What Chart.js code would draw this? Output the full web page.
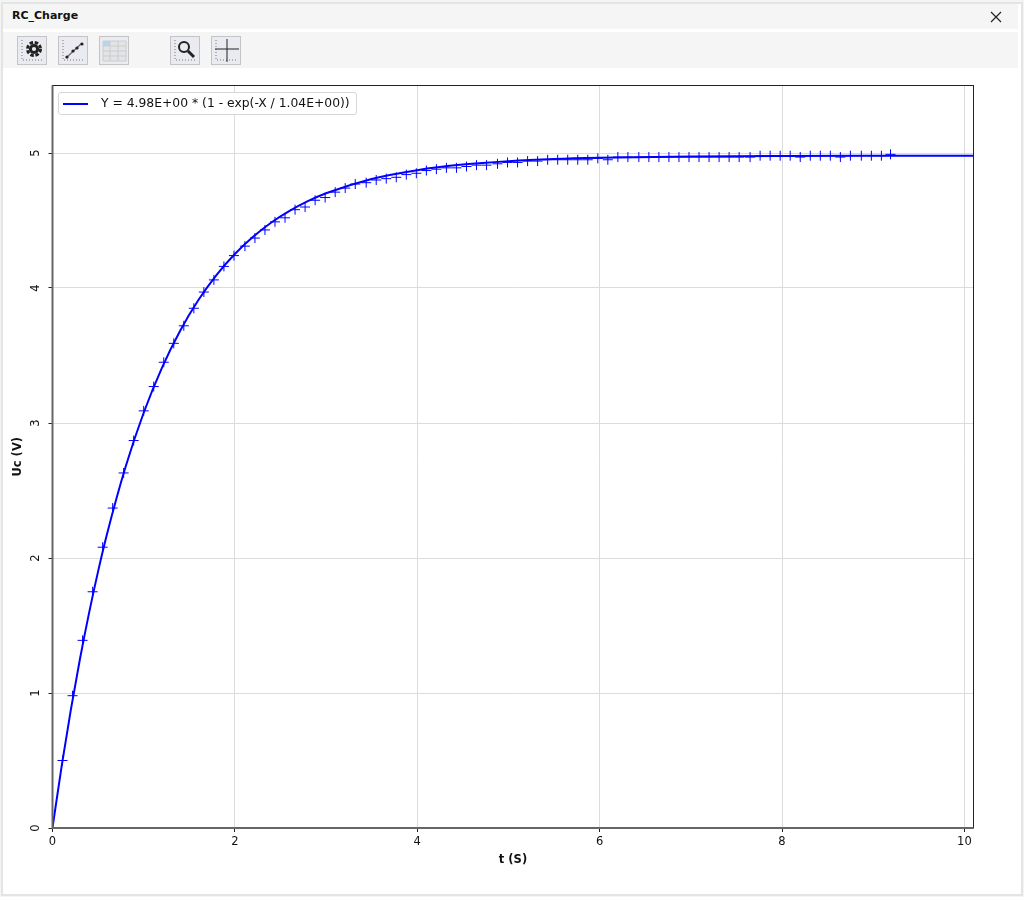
<!DOCTYPE html>
<html>
<head>
<meta charset="utf-8">
<title>RC_Charge</title>
<script src="https://cdn.jsdelivr.net/npm/chart.js@4/dist/chart.umd.min.js"></script>
<style>
  html, body { margin: 0; padding: 0; background: #f4f4f4; }
  #win { position: relative; width: 1024px; height: 897px; overflow: hidden; font-family: "DejaVu Sans", sans-serif; }
  #frame { position: absolute; left: 1px; top: 2px; width: 1018px; height: 890px; border: 2px solid #e4e4e4; background: #fff; }
  #titlebar { position: absolute; left: 3px; top: 4px; width: 1015px; height: 25px; background: #f5f5f5; }
  #title { position: absolute; left: 12px; top: 9px; font-size: 11px; font-weight: bold; color: #111; }
  #close { position: absolute; left: 990px; top: 11px; }
  #toolbar { position: absolute; left: 3px; top: 32px; width: 1015px; height: 36px; background: #f5f5f5; }
  .tool { position: absolute; top: 36px; width: 28px; height: 27px; border: 1px solid #c4c4c8; background: #e9ebf0; }
  .tool svg { filter: blur(.35px); }
  #plot { position: absolute; left: 0; top: 68px; width: 1019px; height: 800px; }
  #legend { position: absolute; left: 58px; top: 92px; width: 297px; height: 21px; border: 1px solid #d6d6d6; border-radius: 3px; background: rgba(255,255,255,.9); font-size: 12.35px; line-height: 21px; color: #111; white-space: nowrap; }
  #legend i { position: absolute; left: 4px; top: 10px; width: 25px; height: 2px; background: #0000ff; }
  #legend span { position: absolute; left: 42px; top: 0; }
</style>
</head>
<body>
<div id="win">
  <div id="frame"></div>
  <div id="titlebar"></div>
  <div id="title">RC_Charge</div>
  <svg id="close" width="12" height="12" viewBox="0 0 12 12"><path d="M1 1L11 11M11 1L1 11" stroke="#222" stroke-width="1.2"/></svg>
  <div id="toolbar"></div>
  <div class="tool" style="left:17px"><svg width="28" height="27"><path d="M4 3V23H26" fill="none" stroke="#777" stroke-dasharray="1 2"/><circle cx="16" cy="12" r="6.5" fill="none" stroke="#222" stroke-width="3" stroke-dasharray="3.4 1.7"/><circle cx="16" cy="12" r="3.6" fill="none" stroke="#222" stroke-width="3"/></svg></div>
  <div class="tool" style="left:58px"><svg width="28" height="27"><path d="M4 3V23H26" fill="none" stroke="#777" stroke-dasharray="1 2"/><path d="M7 21L23 6" stroke="#7a5a7a" stroke-width="1.2"/><circle cx="8" cy="20" r="1.6" fill="#222"/><circle cx="14" cy="14" r="1.6" fill="#222"/><circle cx="18" cy="11" r="1.6" fill="#222"/><circle cx="23" cy="7" r="1.6" fill="#222"/></svg></div>
  <div class="tool" style="left:99px"><svg width="28" height="27"><path d="M3 4H26V24H3Z" fill="#e2e4e6" stroke="#ccc"/><path d="M3 9H26M3 14H26M3 19H26M10 4V24M18 4V24" stroke="#ccc"/><rect x="3" y="4" width="7" height="5" fill="#b5d4f2"/></svg></div>
  <div class="tool" style="left:170px"><svg width="28" height="27"><path d="M4 3V23H26" fill="none" stroke="#777" stroke-dasharray="1 2"/><circle cx="13" cy="10" r="5" fill="none" stroke="#222" stroke-width="2"/><path d="M17 14L23 20" stroke="#222" stroke-width="3"/></svg></div>
  <div class="tool" style="left:211px"><svg width="28" height="27"><path d="M4 3V23H26" fill="none" stroke="#777" stroke-dasharray="1 2"/><path d="M15 2V25M3 12H27" stroke="#222"/></svg></div>
  <div id="plot"><canvas id="chart"></canvas></div>
  <div id="legend"><i></i><span id="legend-label"></span></div>
</div>
<script>
// measured samples (the + marks)
const sampleT = [0.11, 0.22, 0.33, 0.44, 0.55, 0.66, 0.78, 0.89, 1.00, 1.11,
  1.22, 1.33, 1.44, 1.55, 1.66, 1.77, 1.88, 1.99, 2.11, 2.22,
  2.33, 2.44, 2.55, 2.66, 2.77, 2.88, 2.99, 3.10, 3.21, 3.32,
  3.44, 3.55, 3.66, 3.77, 3.88, 3.99, 4.10, 4.21, 4.32, 4.43,
  4.54, 4.65, 4.76, 4.88, 4.99, 5.10, 5.21, 5.32, 5.43, 5.54,
  5.65, 5.76, 5.87, 5.98, 6.09, 6.20, 6.31, 6.43, 6.54, 6.65,
  6.76, 6.87, 6.98, 7.09, 7.20, 7.31, 7.42, 7.53, 7.65, 7.76,
  7.87, 7.98, 8.09, 8.20, 8.31, 8.42, 8.53, 8.64, 8.75, 8.87,
  8.98, 9.09, 9.19];
const sampleU = [0.50, 0.98, 1.39, 1.75, 2.08, 2.37, 2.63, 2.87, 3.09, 3.27,
  3.45, 3.59, 3.72, 3.85, 3.97, 4.06, 4.16, 4.24, 4.31, 4.37,
  4.43, 4.49, 4.52, 4.58, 4.60, 4.65, 4.67, 4.71, 4.74, 4.77,
  4.78, 4.80, 4.81, 4.82, 4.84, 4.85, 4.87, 4.88, 4.89, 4.89,
  4.90, 4.91, 4.91, 4.92, 4.93, 4.93, 4.94, 4.94, 4.95, 4.95,
  4.95, 4.95, 4.95, 4.96, 4.95, 4.97, 4.97, 4.97, 4.97, 4.97,
  4.97, 4.97, 4.97, 4.97, 4.97, 4.97, 4.97, 4.97, 4.97, 4.98,
  4.98, 4.98, 4.98, 4.97, 4.98, 4.98, 4.98, 4.97, 4.98, 4.98,
  4.98, 4.98, 4.99];

// fitted curve
const fitT = [0, 0.1, 0.2, 0.3, 0.4, 0.5, 0.6, 0.8, 1.0, 1.2, 1.4, 1.6, 1.8,
  2.0, 2.2, 2.4, 2.6, 2.8, 3.0, 3.5, 4.0, 4.5, 5.0, 5.5, 6.0, 7.0, 8.0, 9.0, 10.1];
const fitU = [0, 0.457, 0.871, 1.248, 1.590, 1.901, 2.183, 2.672, 3.076, 3.409, 3.684, 3.911, 4.098,
  4.252, 4.379, 4.485, 4.571, 4.643, 4.702, 4.808, 4.873, 4.914, 4.939, 4.955, 4.964, 4.974, 4.978, 4.979, 4.980];

const xTicks = [0, 2, 4, 6, 8, 10];
const yTicks = [0, 1, 2, 3, 4, 5];
const fitLabel = 'Y = 4.98E+00 * (1 - exp(-X / 1.04E+00))';

const toXY = (xs, ys) => xs.map((x, i) => ({ x, y: ys[i] }));

Chart.defaults.font.family = '"DejaVu Sans", sans-serif';
Chart.defaults.font.size = 11.5;
Chart.defaults.color = '#111';
Chart.defaults.animation = false;

// 사방 테두리 (왼쪽/아래는 더 굵게)
const framePlugin = {
  id: 'frame',
  afterDatasetsDraw(chart) {
    const { ctx, chartArea: a } = chart;
    ctx.save();
    ctx.strokeStyle = '#222';
    ctx.lineWidth = 1;
    ctx.strokeRect(a.left, a.top, a.right - a.left, a.bottom - a.top);
    ctx.strokeStyle = '#666';
    ctx.lineWidth = 2;
    ctx.beginPath();
    ctx.moveTo(a.left, a.top);
    ctx.lineTo(a.left, a.bottom);
    ctx.lineTo(a.right, a.bottom);
    ctx.stroke();
    ctx.restore();
  },
};

const axisCommon = {
  type: 'linear',
  min: 0,
  grid: { color: '#dcdcdc', lineWidth: 1, tickLength: 4, tickColor: '#222' },
  border: { display: false },
};

document.getElementById('legend-label').textContent = fitLabel;

new Chart(document.getElementById('chart'), {
  type: 'scatter',
  data: {
    datasets: [
      {
        label: fitLabel,
        data: toXY(fitT, fitU),
        showLine: true,
        cubicInterpolationMode: 'monotone',
        borderColor: '#0000ff',
        borderWidth: 2,
        pointRadius: 0,
      },
      {
        label: 'samples',
        data: toXY(sampleT, sampleU),
        showLine: false,
        pointStyle: 'cross',
        pointRadius: 5,
        pointBorderColor: '#0000ff',
        pointBorderWidth: 1,
      },
    ],
  },
  options: {
    responsive: true,
    maintainAspectRatio: false,
    layout: { padding: { top: 17.5, right: 45.5, bottom: 0, left: 0 } },
    plugins: { legend: { display: false }, tooltip: { enabled: false } },
    scales: {
      x: {
        ...axisCommon,
        max: 10.1,
        title: { display: true, text: 't (S)', font: { weight: 'bold' }, padding: { top: 2, bottom: 1 } },
        ticks: { padding: 3, maxRotation: 0 },
        afterBuildTicks: (s) => { s.ticks = xTicks.map((value) => ({ value })); },
        afterFit: (s) => { s.height = 40; },
      },
      y: {
        ...axisCommon,
        max: 5.5,
        title: { display: true, text: 'Uc (V)', font: { weight: 'bold' }, padding: { top: 11, bottom: 4 } },
        ticks: { padding: 9, minRotation: 90, maxRotation: 90, crossAlign: 'center' },
        afterBuildTicks: (s) => { s.ticks = yTicks.map((value) => ({ value })); },
        afterFit: (s) => { s.width = 52.5; },
      },
    },
  },
  plugins: [framePlugin],
});
</script>
</body>
</html>
